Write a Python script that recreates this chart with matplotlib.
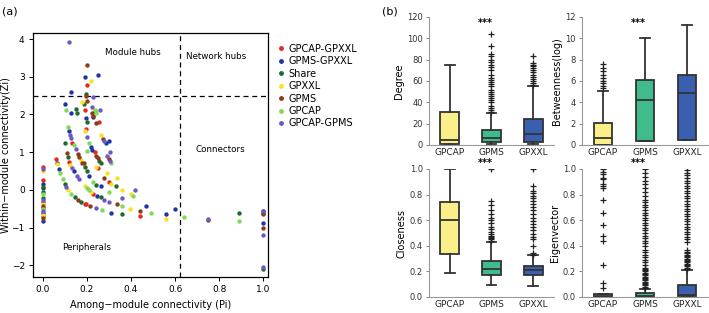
import matplotlib
matplotlib.use("Agg")
import matplotlib.pyplot as plt
from matplotlib.lines import Line2D

## Panel (a): Zi-Pi scatter, one pair of arrays per group
pi_red = [0.0, 0.0, 0.0, 0.0, 0.06, 0.12, 0.135, 0.19, 0.195, 0.2, 0.19, 0.235, 0.25, 0.255, 0.3, 0.23, 0.44, 0.195]
zi_red = [0.60, 0.27, -0.33, -0.48, 0.82, 0.75, 1.25, 2.12, 1.62, 2.78, -0.38, 1.0, 0.58, 1.8, 0.22, -0.1, -0.70, -0.38]

pi_blue = [0.0, 0.0, 0.0, 0.0, 0.075, 0.14, 0.12, 0.1, 0.13, 0.13, 0.19, 0.25, 0.195, 0.21, 0.22, 0.225, 0.23, 0.285, 0.3, 0.265, 0.245, 0.31, 0.47, 0.56, 0.6, 1.0, 1.0, 0.065]
zi_blue = [0.15, 0.05, -0.62, -0.82, 0.55, 0.50, 1.55, 2.28, 2.60, 2.05, 3.00, 3.04, 1.90, 0.38, 1.14, 1.05, 1.92, 1.25, 1.30, 0.10, -0.15, -0.60, -0.43, -0.65, -0.50, -0.55, -0.87, 0.72]

pi_dgreen = [0.0, 0.0, 0.0, 0.0, 0.1, 0.1, 0.115, 0.145, 0.175, 0.15, 0.155, 0.185, 0.195, 0.2, 0.19, 0.2, 0.24, 0.265, 0.255, 0.33, 0.36, 0.265, 0.89, 1.0, 1.0, 0.235]
zi_dgreen = [0.08, -0.05, -0.22, -0.70, 0.15, 1.25, 0.87, -0.18, -0.33, 2.15, 2.05, 2.28, 2.55, 1.80, 0.62, 0.50, 0.12, -0.20, 0.77, 0.10, -0.65, 0.70, -0.60, -0.60, -2.10, 2.08]

pi_yellow = [0.0, 0.0, 0.0, 0.065, 0.115, 0.125, 0.175, 0.18, 0.19, 0.19, 0.22, 0.24, 0.22, 0.265, 0.31, 0.36, 0.395, 0.4, 0.335, 0.56, 0.29]
zi_yellow = [0.50, -0.38, -0.66, 0.68, 0.00, 0.65, 0.78, 2.33, 1.55, 0.10, 2.88, 0.62, -0.05, 1.45, 0.15, 0.00, -0.50, -0.10, 0.32, -0.76, 0.45]

pi_brown = [0.0, 0.0, 0.11, 0.16, 0.165, 0.16, 0.18, 0.215, 0.195, 0.2, 0.2, 0.225, 0.23, 0.24, 0.24, 0.25, 0.275, 0.28, 0.3, 0.335, 0.44, 0.75, 1.0, 1.0, 0.185]
zi_brown = [-0.43, -0.75, 0.98, 0.95, 0.88, -0.27, 0.70, -0.43, 2.50, 3.31, 2.35, 2.05, 1.95, 1.78, 0.90, 0.85, 1.35, 0.32, 0.82, -0.38, -0.55, -0.80, -0.65, -1.00, 0.72]

pi_lgreen = [0.0, 0.0, 0.08, 0.09, 0.13, 0.105, 0.115, 0.14, 0.2, 0.21, 0.23, 0.21, 0.235, 0.24, 0.3, 0.27, 0.31, 0.41, 0.36, 0.49, 0.64, 0.89, 0.2]
zi_lgreen = [-0.12, -0.52, 0.45, 0.30, -0.10, 2.12, 1.68, 1.18, 0.05, 0.00, 0.22, 1.25, 2.12, 2.05, -0.05, -0.54, 0.70, -0.17, -0.44, -0.60, -0.72, -0.82, 1.02]

pi_purple = [0.0, 0.0, 0.0, 0.105, 0.125, 0.13, 0.15, 0.135, 0.155, 0.165, 0.2, 0.23, 0.225, 0.26, 0.24, 0.28, 0.3, 0.29, 0.305, 0.28, 0.305, 0.36, 0.42, 0.75, 1.0, 1.0, 1.0, 0.12]
zi_purple = [0.55, -0.28, -0.56, 0.08, 1.45, 1.38, 1.08, 0.58, 0.38, 0.30, 1.40, 2.45, 2.20, 2.12, -0.48, -0.27, -0.33, 0.90, 0.77, 1.30, 1.00, -0.22, 0.00, -0.76, -0.57, -1.20, -2.05, 3.92]

groups = ["GPCAP-GPXXL", "GPMS-GPXXL", "Share", "GPXXL", "GPMS", "GPCAP", "GPCAP-GPMS"]
group_colors = ["#e8281e", "#2233a8", "#1c6b2c", "#f7e225", "#8a3b17", "#7fd95a", "#6e58c6"]
group_data = [(pi_red, zi_red), (pi_blue, zi_blue), (pi_dgreen, zi_dgreen), (pi_yellow, zi_yellow),
              (pi_brown, zi_brown), (pi_lgreen, zi_lgreen), (pi_purple, zi_purple)]

## Panel (b): box statistics
box_names = ["GPCAP", "GPMS", "GPXXL"]
box_colors = ["#fbef8a", "#3fbb8c", "#3a5fb0"]

degree_stats = [
    dict(whislo=0, q1=0.5, med=5, q3=31, whishi=75, fliers=[]),
    dict(whislo=1, q1=3, med=7, q3=14, whishi=30,
         fliers=[31, 33, 35, 37, 40, 42, 44, 46, 48, 50, 52, 55, 57, 59, 61, 63, 66, 70, 73, 75, 78, 80, 83, 85, 93, 104]),
    dict(whislo=1, q1=2.5, med=10, q3=24, whishi=55,
         fliers=[56, 58, 60, 62, 64, 66, 68, 70, 72, 74, 75, 77, 83]),
]
betw_stats = [
    dict(whislo=0, q1=0, med=0.7, q3=2.05, whishi=5.1, fliers=[5.3, 5.5, 5.8, 6.0, 6.3, 6.6, 6.9, 7.2, 7.6]),
    dict(whislo=0.4, q1=0.4, med=4.2, q3=6.05, whishi=10.05, fliers=[]),
    dict(whislo=0.45, q1=0.45, med=4.85, q3=6.55, whishi=11.25, fliers=[]),
]
close_stats = [
    dict(whislo=0.19, q1=0.335, med=0.6, q3=0.74, whishi=1.0, fliers=[]),
    dict(whislo=0.09, q1=0.175, med=0.215, q3=0.28, whishi=0.43,
         fliers=[0.44, 0.45, 0.46, 0.47, 0.48, 0.49, 0.51, 0.53, 0.55, 0.58, 0.6, 0.62, 0.65, 0.68, 0.72, 0.75, 1.0]),
    dict(whislo=0.085, q1=0.175, med=0.21, q3=0.24, whishi=0.325,
         fliers=[0.33, 0.34, 0.40, 0.45, 0.47, 0.49, 0.52, 0.55, 0.57, 0.59, 0.62, 0.65, 0.68, 0.70, 0.73, 0.75,
                 0.77, 0.79, 0.81, 0.83, 0.87, 1.0]),
]
eigen_stats = [
    dict(whislo=0, q1=0, med=0.005, q3=0.025, whishi=0.025,
         fliers=[0.07, 0.11, 0.25, 0.44, 0.48, 0.56, 0.66, 0.76, 0.85, 0.87, 0.88, 0.92, 0.93, 0.96, 0.98, 1.0]),
    dict(whislo=0, q1=0, med=0.01, q3=0.03, whishi=0.06,
         fliers=[0.07, 0.08, 0.09, 0.10, 0.11, 0.12, 0.13, 0.14, 0.15, 0.16, 0.17, 0.18, 0.19, 0.20, 0.21, 0.22,
                 0.23, 0.25, 0.27, 0.29, 0.31, 0.33, 0.35, 0.37, 0.40, 0.42, 0.44, 0.46, 0.48, 0.50, 0.52, 0.54,
                 0.56, 0.58, 0.60, 0.62, 0.64, 0.66, 0.68, 0.70, 0.72, 0.74, 0.76, 0.79, 0.82, 0.85, 0.88, 0.91,
                 0.94, 0.97, 1.0]),
    dict(whislo=0.01, q1=0.01, med=0.015, q3=0.09, whishi=0.21,
         fliers=[0.22, 0.23, 0.24, 0.25, 0.26, 0.27, 0.28, 0.29, 0.30, 0.31, 0.32, 0.33, 0.34, 0.35, 0.37, 0.43,
                 0.45, 0.47, 0.49, 0.51, 0.53, 0.55, 0.57, 0.59, 0.61, 0.63, 0.65, 0.67, 0.69, 0.71, 0.73, 0.75,
                 0.77, 0.79, 0.81, 0.83, 0.85, 0.87, 0.89, 0.91, 0.93, 0.95, 0.97, 0.99]),
]

fig = plt.figure(figsize=(7.09, 3.13), dpi=100)

# ---- (a) scatter
ax = fig.add_axes([33 / 709, 1 - 277 / 313, 235 / 709, 244 / 313])
for name, col, (px, zy) in zip(groups, group_colors, group_data):
    ax.scatter(px, zy, s=10, color=col, linewidths=0, label=name, zorder=3)
ax.axhline(2.5, color="black", ls=(0, (4, 3)), lw=0.9)
ax.axvline(0.62, color="black", ls=(0, (4, 3)), lw=0.9)
ax.set_xlim(-0.044, 1.021)
ax.set_ylim(-2.31, 4.16)
ax.set_xticks([0.0, 0.2, 0.4, 0.6, 0.8, 1.0])
ax.set_xticklabels(["0.0", "0.2", "0.4", "0.6", "0.8", "1.0"])
ax.set_yticks([-2, -1, 0, 1, 2, 3, 4])
ax.set_yticklabels(["\u22122", "\u22121", "0", "1", "2", "3", "4"])
ax.tick_params(labelsize=6.5, length=3, width=0.7, direction="out", pad=3)
for sp in ax.spines.values():
    sp.set_linewidth(0.9)
ax.set_xlabel("Among\u2212module connectivity (Pi)", fontsize=7, va="center")
ax.xaxis.set_label_coords(0.5, -0.115)
ax.set_ylabel("Within\u2212module connectivity(Zi)", fontsize=7, va="center")
ax.yaxis.set_label_coords(-0.115, 0.5)
ax.text(0.41, 3.64, "Module hubs", fontsize=6.3, ha="center", va="center")
ax.text(0.785, 3.53, "Network hubs", fontsize=6.3, ha="center", va="center")
ax.text(0.807, 1.07, "Connectors", fontsize=6.3, ha="center", va="center")
ax.text(0.2, -1.52, "Peripherals", fontsize=6.3, ha="center", va="center")

handles = [Line2D([], [], marker="o", ls="", color=c, markersize=3.5, markeredgewidth=0) for c in group_colors]
fig.legend(handles, groups, loc="upper left", bbox_to_anchor=(272 / 709, 1 - 40 / 313), frameon=False,
           fontsize=7, handletextpad=0.3, labelspacing=0.25, handlelength=1.0, borderaxespad=0)

fig.text(2 / 709, 1 - 11 / 313, "(a)", fontsize=8, va="center")
fig.text(382 / 709, 1 - 11 / 313, "(b)", fontsize=8, va="center")

# ---- (b) boxplots
panels = [
    (degree_stats, "Degree", 120, [0, 20, 40, 60, 80, 100, 120], [429, 17, 554, 145], "int", 0.95),
    (betw_stats, "Betweenness(log)", 12, [0, 2, 4, 6, 8, 10, 12], [582, 17, 708, 145], "int", 0.95),
    (close_stats, "Closeness", 1.0, [0, 0.2, 0.4, 0.6, 0.8, 1.0], [429, 169, 554, 297], "f1", 1.045),
    (eigen_stats, "Eigenvector", 1.0, [0, 0.2, 0.4, 0.6, 0.8, 1.0], [582, 169, 708, 297], "f1", 1.045),
]
edge = "#333333"
for stats, ylab, top, ticks, (x0, y0, x1, y1), fmt, star_y in panels:
    bx = fig.add_axes([x0 / 709, 1 - y1 / 313, (x1 - x0) / 709, (y1 - y0) / 313])
    res = bx.bxp(stats, positions=[1, 2, 3], widths=0.45, patch_artist=True, showfliers=True,
                 boxprops=dict(edgecolor=edge, linewidth=1.3),
                 medianprops=dict(color=edge, linewidth=1.3),
                 whiskerprops=dict(color=edge, linewidth=1.3),
                 capprops=dict(color=edge, linewidth=1.3),
                 flierprops=dict(marker="+", markersize=5, markeredgecolor="#222222", markeredgewidth=0.9))
    for patch, col in zip(res["boxes"], box_colors):
        patch.set_facecolor(col)
    bx.set_xlim(0.5, 3.5)
    bx.set_ylim(0, top)
    bx.set_yticks(ticks)
    if fmt == "int":
        bx.set_yticklabels([str(t) for t in ticks])
    else:
        bx.set_yticklabels(["%.1f" % t for t in ticks])
    bx.set_xticks([1, 2, 3])
    bx.set_xticklabels(box_names)
    bx.tick_params(axis="y", labelsize=6, length=2.5, width=0.7, color="#888888", labelcolor="#333333", pad=2)
    bx.tick_params(axis="x", labelsize=6.5, length=0, labelcolor="#222222", pad=2)
    for side in ["top", "right"]:
        bx.spines[side].set_visible(False)
    for side in ["left", "bottom"]:
        bx.spines[side].set_color("#999999")
        bx.spines[side].set_linewidth(0.8)
    bx.set_ylabel(ylab, fontsize=7, labelpad=2)
    bx.text(1.85, top * star_y, "***", ha="center", va="center", fontsize=7, fontweight="bold", clip_on=False)

fig.savefig("out.png", dpi=100)
